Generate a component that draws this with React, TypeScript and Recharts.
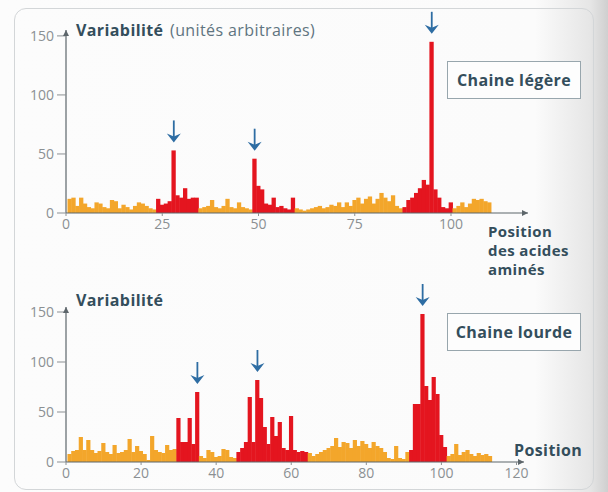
import { ComposedChart, Bar, Cell, XAxis, YAxis, ReferenceDot } from "recharts";

// Variabilité (Wu-Kabat) par position, chaîne légère, positions 1..110
const lightValues = [
  12, 13, 6, 13, 8, 5, 4, 9, 8, 5,
  4, 11, 10, 4, 7, 5, 3, 6, 9, 8,
  6, 4, 3, 12, 7, 8, 10, 53, 15, 13,
  21, 12, 13, 13, 4, 5, 6, 11, 5, 4,
  6, 12, 5, 4, 9, 5, 4, 3, 46, 23,
  20, 8, 7, 13, 5, 6, 4, 3, 13, 4,
  3, 2, 3, 4, 5, 6, 4, 5, 7, 6,
  9, 5, 9, 6, 11, 13, 8, 12, 14, 8,
  12, 17, 13, 10, 15, 6, 4, 5, 11, 13,
  17, 21, 28, 24, 145, 20, 13, 5, 4, 9,
  4, 6, 9, 5, 8, 12, 11, 12, 10, 9,
];

// chaîne lourde, positions 1..113
const heavyValues = [
  8, 11, 12, 25, 12, 22, 12, 9, 11, 19,
  10, 8, 17, 9, 10, 12, 23, 10, 16, 11,
  8, 2, 26, 12, 10, 9, 17, 12, 13, 44,
  20, 20, 44, 18, 70, 6, 4, 12, 10, 5,
  6, 13, 12, 5, 4, 10, 14, 20, 65, 20,
  82, 64, 35, 18, 45, 26, 40, 14, 12, 46,
  12, 10, 11, 10, 9, 6, 8, 10, 12, 14,
  16, 24, 15, 20, 19, 14, 22, 16, 21, 18,
  14, 20, 16, 14, 10, 4, 3, 16, 4, 3,
  10, 12, 58, 58, 148, 76, 62, 85, 68, 27,
  15, 6, 8, 18, 7, 10, 12, 8, 6, 9,
  7, 8, 6,
];

// zones hypervariables (en rouge)
const lightHyper = [[24, 34], [49, 59], [88, 100]];
const heavyHyper = [[30, 35], [46, 64], [92, 101]];

// positions marquées d'une flèche
const lightArrows = [28, 49, 95];
const heavyArrows = [35, 51, 95];

const lightTicks = [0, 25, 50, 75, 100];
const heavyTicks = [0, 20, 40, 60, 80, 100, 120];
const yTicks = [0, 50, 100, 150];

const ORANGE = "#F3A62B";
const RED = "#E4151F";
const BLUE = "#2E6DA3";
const INK = "#344E5C";
const GREY = "#8b9093";
const AXIS = "#5d666b";
const FONT = "'Open Sans', sans-serif";

const toData = (values: number[]) => values.map((v, i) => ({ pos: i + 1, v }));
const inHyper = (pos: number, zones: number[][]) => zones.some(([a, b]) => pos >= a && pos <= b);

const DownArrow = (props: any) => {
  const { cx, cy } = props;
  const tip = cy - 8;
  return (
    <g>
      <line x1={cx} y1={tip - 22} x2={cx} y2={tip - 5} stroke={BLUE} strokeWidth={1.8} />
      <path d={`M${cx - 7},${tip - 9} L${cx},${tip - 6} L${cx + 7},${tip - 9} L${cx},${tip} Z`} fill={BLUE} />
    </g>
  );
};

const RightHead = (props: any) => {
  const { cx, cy } = props;
  return <path d={`M${cx - 6},${cy - 3} L${cx},${cy} L${cx - 6},${cy + 3} Z`} fill={AXIS} />;
};

const UpHead = (props: any) => {
  const { cx, cy } = props;
  return <path d={`M${cx - 3},${cy + 6} L${cx},${cy} L${cx + 3},${cy + 6} Z`} fill={AXIS} />;
};

interface PanelProps {
  values: number[];
  zones: number[][];
  arrows: number[];
  xTicks: number[];
  xMax: number;
  height: number;
  barW: number;
  margin: { top: number; right: number; bottom: number; left: number };
  xAxisHeight: number;
}

function Panel({ values, zones, arrows, xTicks, xMax, height, barW, margin, xAxisHeight }: PanelProps) {
  const data = toData(values);
  const tickStyle = { fontSize: 14, fill: GREY, fontFamily: FONT };
  // bars drawn edge to edge like a histogram
  const solidBar = (p: any) => {
    const mid = p.x + p.width / 2;
    return <rect x={mid - barW / 2} y={p.y} width={barW} height={Math.max(p.height, 0)} fill={p.fill} />;
  };
  return (
    <ComposedChart width={608} height={height} data={data} margin={margin} barGap={0} barCategoryGap={0}>
      <XAxis
        type="number"
        dataKey="pos"
        domain={[0, xMax]}
        ticks={xTicks}
        interval={0}
        height={xAxisHeight}
        tick={tickStyle}
        tickSize={3}
        tickMargin={3}
        stroke={AXIS}
        axisLine={{ stroke: AXIS, strokeWidth: 1.2 }}
        tickLine={{ stroke: GREY }}
      />
      <YAxis
        type="number"
        domain={[0, 155]}
        ticks={yTicks}
        interval={0}
        width={50}
        tick={tickStyle}
        tickSize={9}
        tickMargin={3}
        axisLine={{ stroke: AXIS, strokeWidth: 1.2 }}
        tickLine={{ stroke: GREY }}
      />
      <Bar dataKey="v" barSize={4} shape={solidBar} isAnimationActive={false}>
        {data.map((d) => (
          <Cell key={d.pos} fill={inHyper(d.pos, zones) ? RED : ORANGE} />
        ))}
      </Bar>
      {arrows.map((p) => (
        <ReferenceDot key={p} x={p} y={values[p - 1]} r={0} shape={DownArrow} ifOverflow="visible" />
      ))}
      <ReferenceDot x={xMax} y={0} r={0} shape={RightHead} ifOverflow="visible" />
      <ReferenceDot x={0} y={155} r={0} shape={UpHead} ifOverflow="visible" />
    </ComposedChart>
  );
}

const labelStyle: React.CSSProperties = {
  position: "absolute",
  fontFamily: FONT,
  fontSize: 16,
  fontWeight: 700,
  color: INK,
  letterSpacing: 0.4,
  lineHeight: "18px",
  whiteSpace: "nowrap",
};

const boxStyle: React.CSSProperties = {
  ...labelStyle,
  width: 134,
  height: 38,
  border: "1.5px solid #98a6ad",
  background: "#fdfdfd",
  display: "flex",
  alignItems: "center",
  justifyContent: "center",
  boxSizing: "border-box",
};

export default function App() {
  return (
    <div
      style={{
        position: "absolute",
        left: 0,
        top: 0,
        width: 608,
        height: 492,
        overflow: "hidden",
        background: "linear-gradient(to right, #fcfcfc 0%, #fbfbfb 88%, #e6e6e6 97%, #cfcfcf 100%)",
      }}
    >
      <div
        style={{
          position: "absolute",
          left: 14,
          top: 8,
          width: 580,
          height: 482,
          border: "1.5px solid #d3d6d8",
          borderRadius: 12,
          boxSizing: "border-box",
        }}
      />
      <div style={{ position: "absolute", left: 0, top: 0 }}>
        <Panel
          values={lightValues}
          zones={lightHyper}
          arrows={lightArrows}
          xTicks={lightTicks}
          xMax={120}
          height={250}
          barW={4.3}
          margin={{ top: 30, right: 80, bottom: 7, left: 16 }}
          xAxisHeight={30}
        />
      </div>
      <div style={{ position: "absolute", left: 0, top: 250 }}>
        <Panel
          values={heavyValues}
          zones={heavyHyper}
          arrows={heavyArrows}
          xTicks={heavyTicks}
          xMax={122}
          height={242}
          barW={4.2}
          margin={{ top: 57, right: 84, bottom: 5, left: 16 }}
          xAxisHeight={25}
        />
      </div>

      <div style={{ ...labelStyle, left: 76, top: 21 }}>
        Variabilité{" "}
        <span style={{ fontWeight: 400, color: "#5f7480", marginLeft: 2 }}>(unités arbitraires)</span>
      </div>
      <div style={{ ...labelStyle, fontSize: 15, lineHeight: "19px", left: 488, top: 222 }}>
        Position
        <br />
        des acides
        <br />
        aminés
      </div>
      <div style={{ ...boxStyle, left: 447, top: 61 }}>Chaine légère</div>

      <div style={{ ...labelStyle, left: 76, top: 291 }}>Variabilité</div>
      <div style={{ ...labelStyle, left: 514, top: 441 }}>Position</div>
      <div style={{ ...boxStyle, left: 447, top: 313 }}>Chaine lourde</div>
    </div>
  );
}
